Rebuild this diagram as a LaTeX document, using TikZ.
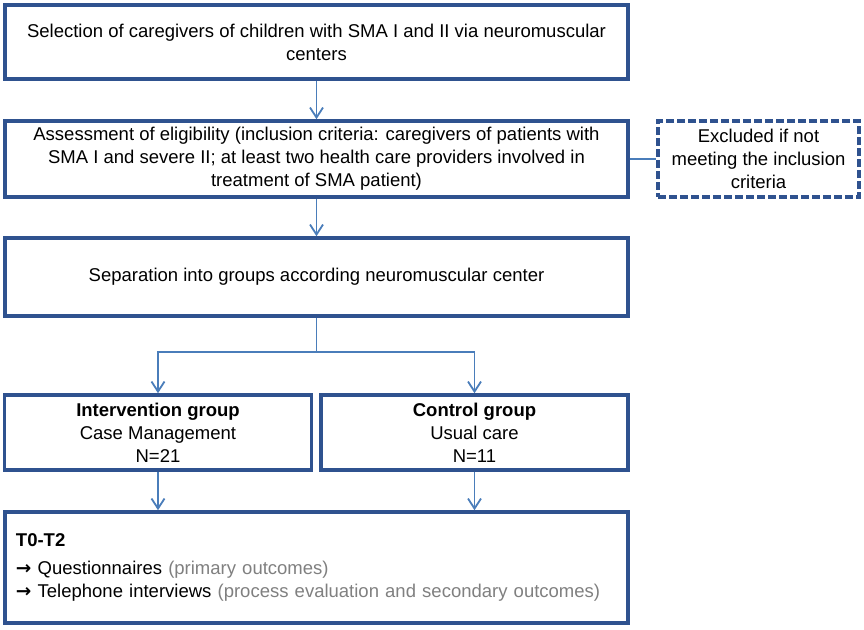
\documentclass[tikz,border=0pt]{standalone}
\usepackage{fontspec}
\setmainfont{Liberation Sans}
\newfontfamily\arrowfont{DejaVu Sans}
\usepackage{tikz}
\usetikzlibrary{shapes,arrows,arrows.meta,calc}

\definecolor{boxblue}{RGB}{47,82,143}
\definecolor{arrblue}{RGB}{74,125,186}
\definecolor{notegray}{RGB}{128,128,128}

\newcommand{\bulletarrow}{{\arrowfont\bfseries →}}

\tikzset{
  box/.style={draw=boxblue, line width=3.6pt, fill=white, inner sep=0pt,
    minimum width=623pt, align=center, font=\fontsize{18.5}{23}\selectfont},
  halfbox/.style={box, minimum width=307pt, minimum height=75pt},
  exclbox/.style={box, dash pattern=on 8pt off 3pt, minimum width=201pt, minimum height=76pt},
  arr/.style={draw=arrblue, line width=1.8pt, -{Straight Barb[length=10pt,width=13pt]}},
  link/.style={draw=arrblue, line width=1.4pt}
}

\begin{document}
\begin{tikzpicture}[x=1pt,y=-1pt]
\useasboundingbox (0,0) rectangle (864,629);
\node[box, minimum height=74pt] (sel) at (316.5,42) {Selection of caregivers of children with SMA I and II via neuromuscular\\ centers};
\node[box, minimum height=76pt] (elig) at (316.5,159) {Assessment of eligibility (inclusion criteria: caregivers of patients with\\ SMA I and severe II; at least two health care providers involved in\\ treatment of SMA patient)};
\node[exclbox] (excl) at (758.5,159) {Excluded if not\\ meeting the inclusion\\ criteria};
\node[box, minimum height=78pt] (sep) at (316.5,277) {Separation into groups according neuromuscular center};
\node[halfbox] (intv) at (158,432.5) {\textbf{Intervention group}\\ Case Management\\ N=21};
\node[halfbox] (ctrl) at (474.5,432.5) {\textbf{Control group}\\ Usual care\\ N=11};
\node[box, minimum height=111pt, text width=601pt, align=left] (tz) at (316.5,567.5)
  {\textbf{T0-T2}\\[5pt]
   \bulletarrow\ Questionnaires {\color{notegray}(primary outcomes)}\\
   \bulletarrow\ Telephone interviews {\color{notegray}(process evaluation and secondary outcomes)}};
\coordinate (split) at (316.5,352);

\draw[arr] (sel) -- (elig);
\draw[link] (elig) -- (excl);
\draw[arr] (elig) -- (sep);
\draw[link] (sep) -- (split);
\draw[arr] (split) -| (intv.north);
\draw[arr] (split) -| (ctrl.north);
\draw[arr] (intv) -- (intv |- tz.north);
\draw[arr] (ctrl) -- (ctrl |- tz.north);
\end{tikzpicture}
\end{document}
